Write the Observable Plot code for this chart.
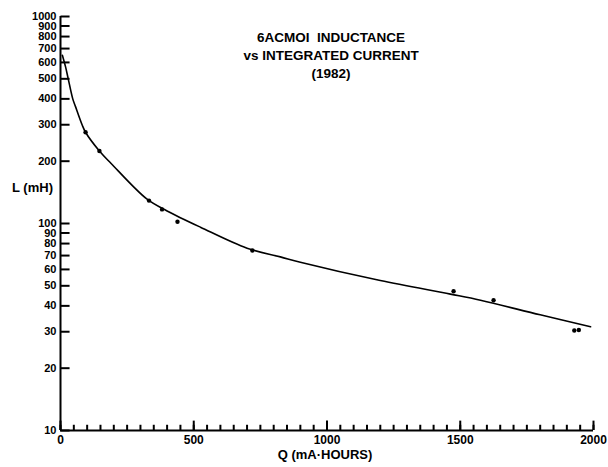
<!DOCTYPE html>
<html>
<head>
<meta charset="utf-8">
<script src="https://cdn.jsdelivr.net/npm/d3@7"></script>
<script src="https://cdn.jsdelivr.net/npm/@observablehq/plot@0.6"></script>
<style>
  html, body { margin: 0; padding: 0; background: #fff; }
  #chart { width: 608px; height: 467px; }
</style>
</head>
<body>
<div id="chart"></div>
<script>
// ---- data ----
const titleText = "6ACMOI  INDUCTANCE\nvs INTEGRATED CURRENT\n(1982)";
const xLabel = "Q (mA·HOURS)";
const yLabel = "L (mH)";

const curveQ = [7, 19, 29, 46, 56, 81, 94, 146, 190, 325, 400, 525, 700, 825, 900, 1200, 1463, 1576, 1800, 1989];
const curveL = [650, 571, 500, 400, 368, 300, 276, 224, 195, 131, 115, 96, 76, 69, 65, 53, 45.6, 42.6, 36.2, 31.7];

const pointQ = [94, 146, 332, 381, 439, 720, 1475, 1625, 1928, 1945];
const pointL = [276, 224, 129, 117, 102, 74, 47.1, 42.6, 30.4, 30.6];

const xMajorTicks = [0, 500, 1000, 1500, 2000];
const xMinorTicks = d3.range(0, 2001, 50);
const yTicks = [10, 20, 30, 40, 50, 60, 70, 80, 90, 100, 200, 300, 400, 500, 600, 700, 800, 900, 1000];

const curve = curveQ.map((q, i) => ({q, l: curveL[i]}));
const points = pointQ.map((q, i) => ({q, l: pointL[i]}));
const yTickRows = yTicks.map(v => ({v}));

const font = "'Liberation Sans', Arial, sans-serif";

// tick lengths expressed through the scales
const yMin = 10, xMin = 0;
const minorTickTop = 10.6;   // ~5px up on the log axis
const majorTickTop = 11.1;   // ~9px up
const yTickEnd = 34;         // ~9px right

const chart = Plot.plot({
  width: 608,
  height: 467,
  marginLeft: 60,
  marginRight: 15,
  marginTop: 16,
  marginBottom: 37,
  style: {fontFamily: font, fontSize: "12px", fontWeight: "bold"},
  x: {domain: [0, 2000], axis: null},
  y: {type: "log", domain: [10, 1000], axis: null},
  marks: [
    // axis lines
    Plot.ruleX([0], {stroke: "#000", strokeWidth: 2}),
    Plot.ruleY([10], {stroke: "#000", strokeWidth: 2}),
    // ticks (inward)
    Plot.ruleX(xMinorTicks, {x: d => d, y1: yMin, y2: minorTickTop, stroke: "#000", strokeWidth: 2}),
    Plot.ruleX(xMajorTicks, {x: d => d, y1: yMin, y2: majorTickTop, stroke: "#000", strokeWidth: 2}),
    Plot.link(yTickRows, {x1: () => xMin, x2: () => yTickEnd, y1: "v", y2: "v", stroke: "#000", strokeWidth: 2}),
    // tick labels
    Plot.text(xMajorTicks, {x: d => d, frameAnchor: "bottom", lineAnchor: "top", dy: 5, text: d => String(d), fontSize: 12, fontWeight: "bold", fill: "#000"}),
    Plot.text(yTicks, {y: d => d, frameAnchor: "left", textAnchor: "end", dx: -4, text: d => String(d), fontSize: 11, fontWeight: "bold", fill: "#000"}),
    // curve and data points
    Plot.line(curve, {x: "q", y: "l", curve: "catmull-rom", stroke: "#000", strokeWidth: 1.6}),
    Plot.dot(points, {x: "q", y: "l", r: 2.2, fill: "#000", stroke: "none"}),
    // texts
    Plot.text([titleText], {frameAnchor: "top", lineAnchor: "top", dx: 4, dy: 13, fontSize: 13.5, fontWeight: "bold", lineHeight: 1.32, fill: "#000"}),
    Plot.text([yLabel], {frameAnchor: "left", textAnchor: "middle", dx: -28, dy: -36, fontSize: 13, fontWeight: "bold", fill: "#000"}),
    Plot.text([xLabel], {frameAnchor: "bottom", textAnchor: "middle", dx: -2, dy: 28, fontSize: 13, fontWeight: "bold", fill: "#000"})
  ]
});
document.getElementById("chart").appendChild(chart);
</script>
</body>
</html>
